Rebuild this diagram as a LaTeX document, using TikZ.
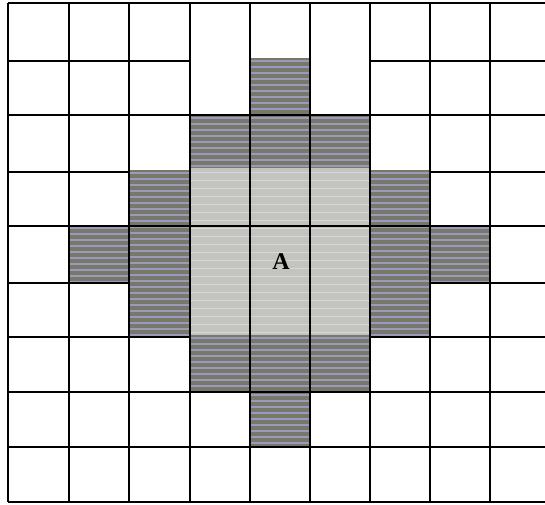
\documentclass[tikz,border=0pt]{standalone}
\usepackage{fontspec}
\setmainfont{Liberation Serif}
\begin{document}
\begin{tikzpicture}[x=1pt,y=-1pt,
  gridline/.style={line width=1.5pt,black},
  darkcell/.style={fill=darkfill},
  lightcell/.style={fill=lightfill},
  stripe/.style={line width=1.3pt,stripecol},
  lstripe/.style={line width=1pt,lstripecol}]
\definecolor{darkfill}{HTML}{78786A}
\definecolor{stripecol}{HTML}{9A9ABC}
\definecolor{lightfill}{HTML}{C4C4BE}
\definecolor{lstripecol}{HTML}{D6D6E2}
\useasboundingbox (0,0) rectangle (545,504);
\fill[white] (0,0) rectangle (545,504);
% light centre
\fill[lightcell] (190,168) rectangle (370,335);
\foreach \yy in {172,180,...,332} {\draw[lstripe] (190,\yy) -- (370,\yy);}
% dark cells
\newcommand{\darkrect}[4]{%
  \fill[darkcell] (#1,#2) rectangle (#3,#4);
  \begin{scope}
  \clip (#1,#2) rectangle (#3,#4);
  \foreach \yy in {0,6,...,180} {\draw[stripe] (#1,#2+\yy+3) -- (#3,#2+\yy+3);}
  \end{scope}}
\darkrect{250}{58}{310}{115}
\darkrect{190}{115}{370}{168}
\darkrect{129}{170}{190}{337}
\darkrect{370}{170}{430}{337}
\darkrect{69}{225}{129}{282}
\darkrect{430}{225}{490}{282}
\darkrect{190}{335}{370}{392}
\darkrect{250}{392}{310}{447}
% vertical lines
\foreach \xx in {8,69,129,190,250,310,370,430,490} {\draw[gridline] (\xx,3) -- (\xx,502);}
% horizontal lines
\foreach \yy in {3,115,226,392,447,502} {\draw[gridline] (8,\yy) -- (545,\yy);}
\draw[gridline] (8,61) -- (190,61);
\draw[gridline] (370,61) -- (545,61);
\draw[gridline] (8,172) -- (129,172);
\draw[gridline] (430,172) -- (545,172);
\draw[gridline] (8,283) -- (129,283);
\draw[gridline] (430,283) -- (545,283);
\draw[gridline] (8,337) -- (190,337);
\draw[gridline] (370,337) -- (545,337);
\node[font=\bfseries\fontsize{24}{26}\selectfont, inner sep=0pt] (A) at (281,262) {A};
\end{tikzpicture}
\end{document}
